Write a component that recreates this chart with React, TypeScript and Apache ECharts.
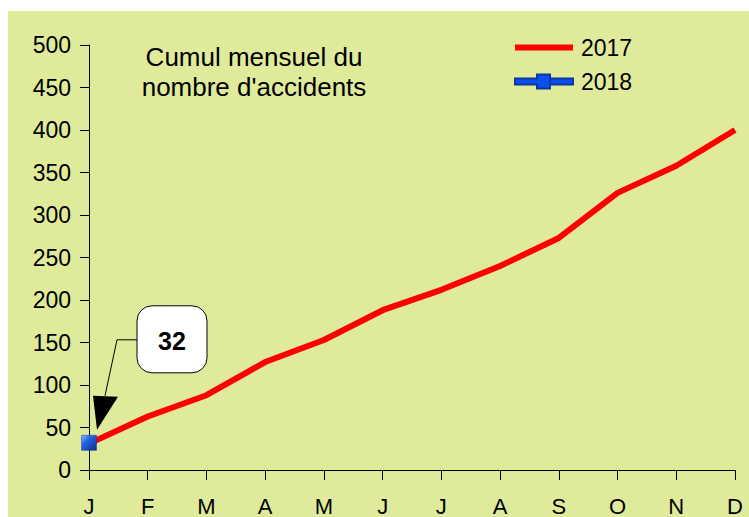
import React, { useEffect, useRef } from "react";
import * as echarts from "echarts";

const months = ["J", "F", "M", "A", "M", "J", "J", "A", "S", "O", "N", "D"];
const cumul2017 = [31, 63, 88, 127, 153, 188, 212, 240, 273, 326, 358, 400];
const cumul2018 = [32];
const yTicks = { min: 0, max: 500, interval: 50 };
const titleText = "Cumul mensuel du\nnombre d'accidents";
const calloutValue = "32";

const FONT = "Liberation Sans";

export default function App() {
  const ref = useRef<HTMLDivElement>(null);
  useEffect(() => {
    if (!ref.current) return;
    const chart = echarts.init(ref.current, null, { renderer: "svg" });
    const blueGrad = new echarts.graphic.LinearGradient(0, 0, 1, 1, [
      { offset: 0, color: "#8fbcff" },
      { offset: 0.35, color: "#2466e6" },
      { offset: 1, color: "#0a2f8a" },
    ]);
    const option: any = {
      animation: false,
      backgroundColor: "#ffffff",
      textStyle: { fontFamily: FONT },
      grid: { left: 89, right: 14, top: 45, bottom: 47, containLabel: false },
      legend: {
        orient: "vertical",
        left: 509,
        top: 31,
        itemWidth: 58,
        itemHeight: 14,
        itemGap: 11,
        textStyle: { fontFamily: FONT, fontSize: 23, color: "#000", padding: [0, 0, 0, 3] },
        data: [
          {
            name: "2017",
            icon: "path://M0,4L58,4L58,10L0,10Z",
            itemStyle: { color: "#ff0000" },
          },
          {
            name: "2018",
            icon: "path://M0,4L22,4L22,0L35,0L35,14L22,14L22,10L0,10Z M35,4L58,4L58,10L35,10Z",
            itemStyle: { color: "#0a50f0" },
          },
        ],
      },
      xAxis: {
        type: "category",
        data: months,
        boundaryGap: false,
        axisLine: { lineStyle: { color: "#000", width: 1 } },
        axisTick: { show: true, length: 10, lineStyle: { color: "#000" }, alignWithLabel: true },
        axisLabel: { color: "#000", fontSize: 22, fontFamily: FONT, margin: 25, interval: 0 },
        splitLine: { show: false },
      },
      yAxis: {
        type: "value",
        min: yTicks.min,
        max: yTicks.max,
        interval: yTicks.interval,
        axisLine: { show: true, lineStyle: { color: "#000", width: 1 } },
        axisTick: { show: true, length: 9, lineStyle: { color: "#000" } },
        axisLabel: { color: "#000", fontSize: 23, fontFamily: FONT, margin: 18 },
        splitLine: { show: false },
      },
      series: [
        {
          name: "2017",
          type: "line",
          data: cumul2017,
          symbol: "none",
          lineStyle: { color: "#ff0000", width: 6 },
          itemStyle: { color: "#ff0000" },
          z: 2,
        },
        {
          name: "2018",
          type: "line",
          data: cumul2018,
          symbol: "rect",
          symbolSize: 15,
          showSymbol: true,
          lineStyle: { color: "#0a50f0", width: 6 },
          itemStyle: {
            color: blueGrad,
            borderColor: "#0a3aa0",
            borderWidth: 0.5,
          },
          z: 3,
        },
      ],
    };
    chart.setOption(option);

    const p = chart.convertToPixel({ seriesIndex: 1 }, [0, cumul2018[0]]) as number[];
    const tipX = p[0] + 8;
    const tipY = p[1] - 13;
    chart.setOption({
      graphic: [
        {
          type: "rect",
          left: 8,
          top: 11,
          z: -10,
          silent: true,
          shape: { width: 749 - 8, height: 517 - 11 },
          style: { fill: "#dfeb9b" },
        },
        {
          type: "text",
          x: 254,
          y: 42,
          z: 10,
          style: {
            text: titleText,
            fontFamily: FONT,
            fontSize: 26,
            lineHeight: 30,
            fill: "#000",
            align: "center",
          },
        },
        {
          type: "rect",
          z: 10,
          shape: { x: tipX + 40, y: tipY - 124, width: 70, height: 67, r: 15 },
          style: { fill: "#ffffff", stroke: "#000", lineWidth: 1 },
        },
        {
          type: "text",
          z: 11,
          x: tipX + 75,
          y: tipY - 89,
          style: {
            text: calloutValue,
            fontFamily: FONT,
            fontSize: 25,
            fontWeight: "bold",
            fill: "#000",
            align: "center",
            verticalAlign: "middle",
          },
        },
        {
          type: "polyline",
          z: 10,
          shape: {
            points: [
              [tipX + 40, tipY - 90],
              [tipX + 20, tipY - 90],
              [tipX + 8, tipY - 34],
            ],
          },
          style: { stroke: "#000", lineWidth: 1, fill: null },
        },
        {
          type: "polygon",
          z: 10,
          shape: {
            points: [
              [tipX - 4, tipY - 34],
              [tipX + 21, tipY - 33],
              [tipX, tipY],
            ],
          },
          style: { fill: "#000" },
        },
      ],
    });

    return () => chart.dispose();
  }, []);
  return <div ref={ref} style={{ width: 749, height: 517, position: "absolute", left: 0, top: 0 }} />;
}
